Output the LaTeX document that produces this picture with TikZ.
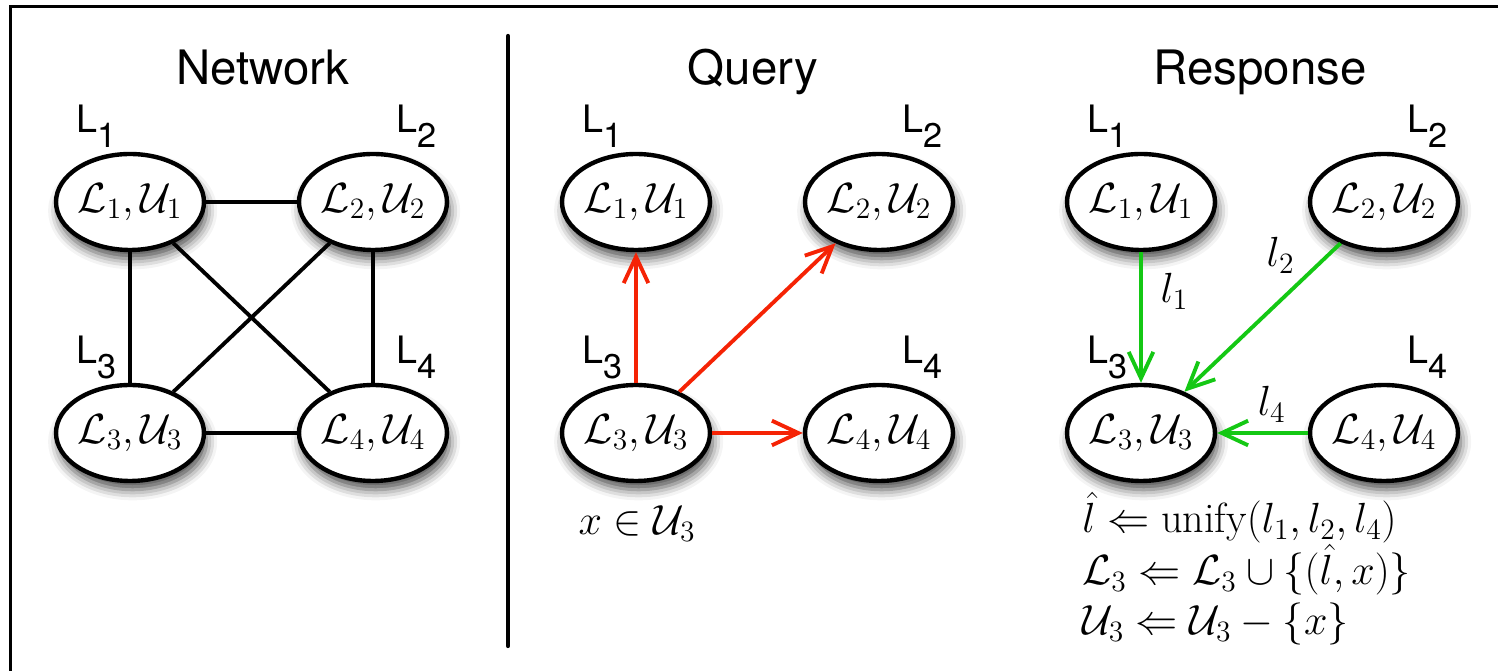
\RequirePackage{fix-cm}
\documentclass[tikz,border=0pt]{standalone}
\usepackage{fontspec}
\newfontfamily\helv{TeX Gyre Heros}
\usetikzlibrary{shapes.geometric,shadows.blur,arrows.meta,calc}

\newcommand{\Lname}[1]{{\helv\fontsize{21.5}{24}\selectfont L\raisebox{-8pt}{\fontsize{19.5}{22}\selectfont #1}}}

\begin{document}
\begin{tikzpicture}[
    x=0.02cm, y=-0.02cm,
    site/.style={ellipse, draw, line width=2.5pt, fill=white, minimum width=2.84cm, minimum height=1.92cm, inner sep=0pt, font=\fontsize{24}{29}\selectfont,
        blur shadow={shadow xshift=1.5pt, shadow yshift=-5pt, shadow blur radius=6pt, shadow opacity=70}},
    lname/.style={inner sep=0pt, anchor=base west},
    ttl/.style={font=\helv\fontsize{27}{32}\selectfont, inner sep=0pt, anchor=base},
    eqn/.style={font=\fontsize{24}{29}\selectfont, inner sep=0pt, anchor=base west},
    elbl/.style={font=\fontsize{24}{29}\selectfont, inner sep=2pt},
    link/.style={line width=2.2pt},
    send/.style={line width=2.2pt, draw=qred, -{Straight Barb[length=15pt,width=14pt]}},
    reply/.style={send, draw=rgreen}
]

\definecolor{qred}{RGB}{245,35,5}
\definecolor{rgreen}{RGB}{20,200,20}

\useasboundingbox (0,0) rectangle (1498,671);

% Frame and divider
\draw[line width=1.6pt] (10.5,671) -- (10.5,6.5) -- (1498,6.5);
\draw[line width=2.4pt, line cap=round] (508,36) -- (508,646);

% Titles
\node[ttl] (tnet) at (263,85) {Network};
\node[ttl] (tqry) at (753,85) {Query};
\node[ttl] (trsp) at (1260,85) {Response};

% Four learners in each panel
\foreach \p/\dx in {net/0, qry/506, rsp/1011} {
    \node[site] (\p1) at (130+\dx,202) {$\mathcal{L}_1,\mathcal{U}_1$};
    \node[site] (\p2) at (373+\dx,202) {$\mathcal{L}_2,\mathcal{U}_2$};
    \node[site] (\p3) at (130+\dx,433) {$\mathcal{L}_3,\mathcal{U}_3$};
    \node[site] (\p4) at (373+\dx,433) {$\mathcal{L}_4,\mathcal{U}_4$};
    \node[lname] (\p-L1) at ($(\p1)+(-54,-69)$) {\Lname{1}};
    \node[lname] (\p-L2) at ($(\p2)+(23,-69)$) {\Lname{2}};
    \node[lname] (\p-L3) at ($(\p3)+(-54,-69)$) {\Lname{3}};
    \node[lname] (\p-L4) at ($(\p4)+(23,-69)$) {\Lname{4}};
}

% Network links
\draw[link] (net1) -- (net2) (net3) -- (net4) (net1) -- (net3) (net2) -- (net4)
    (net1) -- (net4) (net2) -- (net3);

% Query
\draw[send] (qry3) -- (qry1);
\draw[send] (qry3) -- (qry2);
\draw[send] (qry3) -- (qry4);
\node[eqn, anchor=base] (elem) at (637,535) {$x \in \mathcal{U}_3$};

% Response
\draw[reply] (rsp1) -- node[elbl, pos=0.3, right=8pt] (lab1) {$l_1$} (rsp3);
\draw[reply] (rsp2) -- node[elbl, pos=0.25, above left=1pt] (lab2) {$l_2$} (rsp3);
\draw[reply] (rsp4) -- node[elbl, pos=0.4, above=3pt] (lab4) {$l_4$} (rsp3);

\node[eqn] (upd1) at (1082,533) {$\hat{l} \Leftarrow \mathrm{unify}(l_1,l_2,l_4)$};
\node[eqn] (upd2) at (1082,585) {$\mathcal{L}_3 \Leftarrow \mathcal{L}_3 \cup \{(\hat{l},x)\}$};
\node[eqn] (upd3) at (1082,635) {$\mathcal{U}_3 \Leftarrow \mathcal{U}_3 - \{x\}$};

\end{tikzpicture}
\end{document}
